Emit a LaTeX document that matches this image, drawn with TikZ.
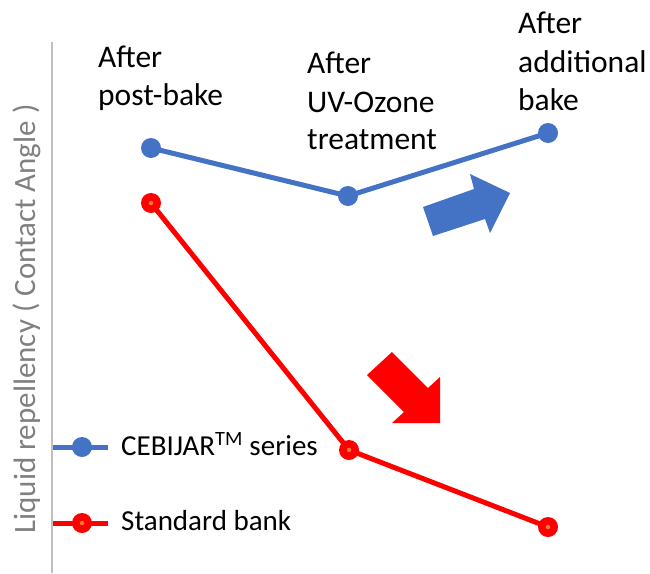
\documentclass[tikz,border=0pt]{standalone}
\usepackage{fontspec}
\setmainfont{Carlito}
\definecolor{cblue}{HTML}{4472C4}
\definecolor{cred}{HTML}{FF0000}
\definecolor{corange}{HTML}{ED7D31}
\definecolor{axisgray}{HTML}{BFBFBF}
\definecolor{labelgray}{HTML}{808080}
\begin{document}
\begin{tikzpicture}[x=1pt,y=-1pt,
  lbl/.style={anchor=base west,inner sep=0pt,font=\fontsize{31.5}{38}\selectfont},
  leg/.style={anchor=base west,inner sep=0pt,font=\fontsize{29}{36}\selectfont},
  bluel/.style={draw=cblue,line width=5pt,line join=round},
  redl/.style={draw=cred,line width=5pt,line join=round},
  bmark/.style={circle,fill=cblue,inner sep=0pt,minimum size=20pt},
  rmark/.style={circle,fill=cred,inner sep=0pt,minimum size=20pt},
  odot/.style={circle,fill=corange,inner sep=0pt,minimum size=4.5pt}]
\useasboundingbox (0,0) rectangle (650,573);
% axis
\coordinate (ax1) at (52,42);
\coordinate (ax2) at (52,573);
\draw[axisgray,line width=1.5pt] (ax1) -- (ax2);
% y label
\node[rotate=90,inner sep=0pt,text=labelgray,font=\fontsize{31}{38}\selectfont] (ylab) at (27,319) {Liquid repellency ( Contact Angle )};
% category labels
\node[lbl] (t1a) at (98,67) {After};
\node[lbl] (t1b) at (98,105) {post-bake};
\node[lbl] (t2a) at (307,73) {After};
\node[lbl] (t2b) at (307,112) {UV-Ozone};
\node[lbl] (t2c) at (307,149) {treatment};
\node[lbl] (t3a) at (518,33) {After};
\node[lbl] (t3b) at (518,72) {additional};
\node[lbl] (t3c) at (518,110) {bake};
% data points
\coordinate (b1) at (151,148);
\coordinate (b2) at (348,196);
\coordinate (b3) at (548,133);
\coordinate (r1) at (151,203);
\coordinate (r2) at (349,450);
\coordinate (r3) at (548,527);
\draw[bluel] (b1) -- (b2) -- (b3);
\draw[redl] (r1) -- (r2) -- (r3);
\node[bmark] (mb1) at (b1) {};
\node[bmark] (mb2) at (b2) {};
\node[bmark] (mb3) at (b3) {};
\foreach \p in {r1,r2,r3}{
  \node[rmark] (m\p) at (\p) {};
  \node[odot] (o\p) at (\p) {};
}
% arrows
\fill[cblue] (423,207) -- (474,189) -- (470,174) -- (510,193) -- (490,233) -- (485,219) -- (433,236) -- cycle;
\fill[cred] (367,375) -- (392,352) -- (428,388) -- (440,377) -- (440,423) -- (392,423) -- (404,412) -- cycle;
% legend
\coordinate (lb1) at (53,447);
\coordinate (lb2) at (108,447);
\coordinate (lr1) at (53,523);
\coordinate (lr2) at (108,523);
\draw[bluel] (lb1) -- (lb2);
\draw[redl] (lr1) -- (lr2);
\node[bmark] (lmb) at (82,447) {};
\node[rmark] (lmr) at (82,523) {};
\node[odot] (lmo) at (82,523) {};
\node[leg] (legb) at (121,455) {CEBIJAR\textsuperscript{TM} series};
\node[leg] (legr) at (121,530) {Standard bank};
\end{tikzpicture}
\end{document}
